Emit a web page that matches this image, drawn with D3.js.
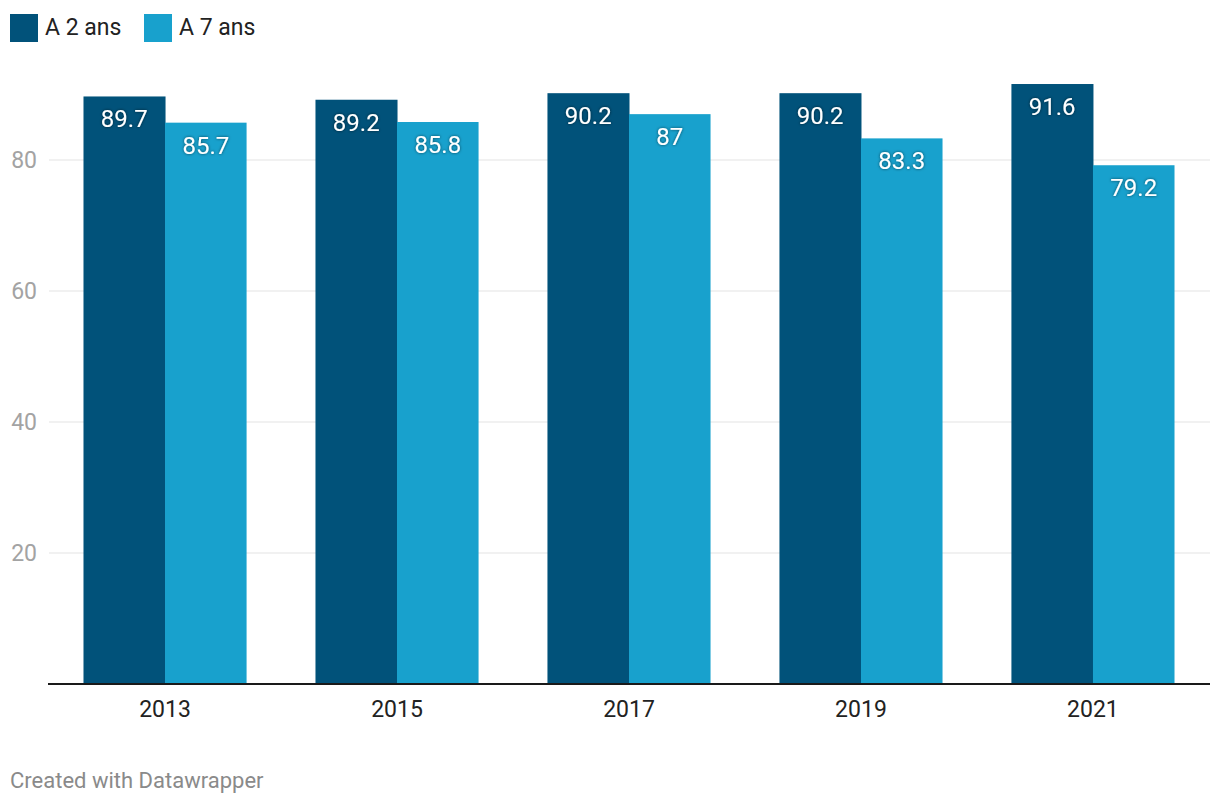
<!DOCTYPE html>
<html>
<head>
<meta charset="utf-8">
<script src="https://cdn.jsdelivr.net/npm/d3@7"></script>
<style>
  body { margin: 0; background: #fff; font-family: Roboto, "Noto Sans", sans-serif; }
  .val { fill: #fff; font-size: 24px; text-anchor: middle; filter: url(#shadow); }
</style>
</head>
<body>
<svg id="svg"></svg>
<script>
const years = ["2013", "2015", "2017", "2019", "2021"];
const seriesNames = ["A 2 ans", "A 7 ans"];
const deuxAns = [89.7, 89.2, 90.2, 90.2, 91.6];
const septAns = [85.7, 85.8, 87, 83.3, 79.2];
const yTicks = [20, 40, 60, 80];
const colors = ["#01527a", "#18a1cd"];

let width = 1220;
let height = 806;
let svg = d3.select("#svg").attr("width", width).attr("height", height);

// shadow under value labels
let filter = svg.append("defs").append("filter").attr("id", "shadow")
    .attr("x", "-20%").attr("y", "-20%").attr("width", "140%").attr("height", "140%");
filter.append("feDropShadow").attr("dx", 0).attr("dy", 0).attr("stdDeviation", 1.5)
    .attr("flood-color", "#000").attr("flood-opacity", 0.6);

let plotLeft = 48, plotRight = 1210, plotBottom = 684;

let x = d3.scaleBand().domain(years).range([plotLeft, plotRight]).paddingInner(0.297).paddingOuter(0.153);
let x1 = d3.scaleBand().domain([0, 1]).range([0, x.bandwidth()]);
let y = d3.scaleLinear().domain([0, 100]).range([plotBottom, plotBottom - 655]);

// grid
svg.append("g").selectAll("line").data(yTicks).join("line")
    .attr("x1", plotLeft + 1).attr("x2", plotRight)
    .attr("y1", d => y(d)).attr("y2", d => y(d))
    .attr("stroke", "#e3e3e3").attr("stroke-width", 1);

svg.append("g").selectAll("text").data(yTicks).join("text")
    .attr("x", 37).attr("y", d => y(d))
    .attr("dy", "0.35em")
    .attr("text-anchor", "end")
    .attr("font-size", 23)
    .attr("fill", "#a3a3a3")
    .text(d => d);

// bars
let series = [deuxAns, septAns];
series.forEach(function (vals, si) {
    let g = svg.append("g");
    g.selectAll("rect").data(years).join("rect")
        .attr("x", d => x(d) + x1(si))
        .attr("width", x1.bandwidth() + (si === 0 ? 0.5 : 0))
        .attr("y", (d, i) => y(vals[i]))
        .attr("height", (d, i) => plotBottom - y(vals[i]))
        .attr("fill", colors[si]);
    g.selectAll("text").data(years).join("text")
        .attr("class", "val")
        .attr("x", d => x(d) + x1(si) + x1.bandwidth() / 2)
        .attr("y", (d, i) => y(vals[i]) + 31)
        .text((d, i) => vals[i]);
});

// baseline axis
svg.append("line")
    .attr("x1", plotLeft).attr("x2", plotRight)
    .attr("y1", plotBottom).attr("y2", plotBottom)
    .attr("stroke", "#1a1a1a").attr("stroke-width", 2);

svg.append("g").selectAll("text").data(years).join("text")
    .attr("x", d => x(d) + x.bandwidth() / 2)
    .attr("y", 717)
    .attr("text-anchor", "middle")
    .attr("font-size", 23)
    .attr("fill", "#222")
    .text(d => d);

// legend
let legendX = [10, 144];
seriesNames.forEach(function (name, i) {
    svg.append("rect").attr("x", legendX[i]).attr("y", 14)
        .attr("width", 28).attr("height", 28).attr("fill", colors[i]);
    svg.append("text").attr("x", legendX[i] + 35).attr("y", 35)
        .attr("font-size", 23).attr("fill", "#222").text(name);
});

// footer
svg.append("text").attr("x", 10).attr("y", 788)
    .attr("font-size", 22).attr("fill", "#8a8a8a")
    .text("Created with Datawrapper");
</script>
</body>
</html>
